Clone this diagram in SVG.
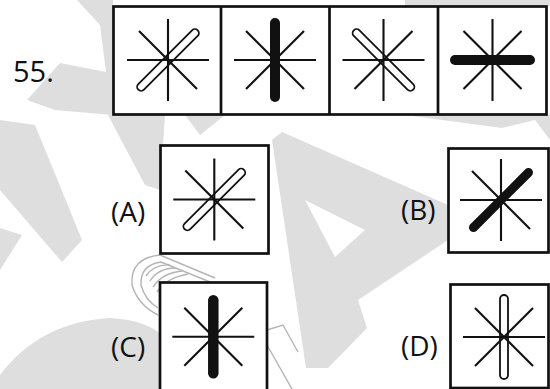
<svg xmlns="http://www.w3.org/2000/svg" xmlns:xlink="http://www.w3.org/1999/xlink" width="550" height="389" viewBox="0 0 550 389">
<style>
.wm{fill:#dedede;stroke:none}
.pen{fill:none;stroke:#b4b4b4;stroke-width:1.4}
.box{fill:#fff;stroke:#111;stroke-width:2.7}
.div{stroke:#111;stroke-width:2.7}
.ray{stroke:#111;stroke-width:2.1;stroke-linecap:butt}
.oval{fill:#fff;stroke:#111;stroke-width:1.8}
.bar{stroke:#111;stroke-width:10;stroke-linecap:round}
.lbl{font-family:"Open Sans","Liberation Sans",sans-serif;font-size:28px;fill:#111}
</style>
<defs>
<line id="h" class="ray" x1="-41" y1="0" x2="41" y2="0"/>
<line id="v" class="ray" x1="0" y1="-41" x2="0" y2="41"/>
<line id="dn" class="ray" x1="-29" y1="29" x2="29" y2="-29"/>
<line id="ds" class="ray" x1="-29" y1="-29" x2="29" y2="29"/>
<rect id="oval" class="oval" x="-42" y="-4" width="84" height="8" rx="4"/>
</defs>
<rect width="550" height="389" fill="#fff"/>
<g id="watermark">
<polygon class="wm" points="77,0 113,0 113,115 55,110 27,100 60,63 106,72 100,25"/>
<polygon class="wm" points="108,115 165,115 160,190 145,185"/>
<polygon class="wm" points="0,120 35,125 82,240 62,262 0,190"/>
<polygon class="wm" points="0,228 22,235 0,270"/>
<path class="wm" d="M0,375 Q40,322 110,318 Q145,320 162,335 L162,389 L0,389 Z"/>
<path class="wm" fill-rule="evenodd" d="M282,132 L448,205 L448,240 L358,300 L367,328 L328,368 L306,368 L272,140 Z M305,200 L365,230 L335,257 Z"/>
<polygon class="wm" points="405,0 550,0 550,6 405,6"/>
<polygon class="wm" points="405,115 550,115 550,140 535,120 502,128"/>
<polygon class="wm" points="185,115 225,115 200,135"/>
</g>
<g id="pencil">
<path class="pen" d="M215,278 L160,255 Q130,258 132,285 Q138,305 158,315"/>
<path class="pen" d="M215,284 L161,262 Q140,265 141,285 Q145,300 158,308"/>
<path class="pen" d="M146,276 Q154,264 170,265 M150,281 Q158,268 176,268 M153,287 Q162,273 182,271 M157,292 Q166,278 188,274"/>
<path class="pen" d="M267,330 L283,325 L298,352 M267,345 L292,389"/>
</g>
<g id="question">
<text class="lbl" x="13" y="81.5" style="font-size:29px">55.</text>
<g id="sequence">
<rect class="box" x="113.5" y="6.5" width="433" height="108"/>
<line class="div" x1="221" y1="6.5" x2="221" y2="114.5"/>
<line class="div" x1="329.5" y1="6.5" x2="329.5" y2="114.5"/>
<line class="div" x1="438" y1="6.5" x2="438" y2="114.5"/>
</g>
<g id="fig1" transform="translate(168,60)">
<use xlink:href="#oval" href="#oval" transform="rotate(-45)"/>
<use xlink:href="#h" href="#h"/><use xlink:href="#v" href="#v"/><use xlink:href="#ds" href="#ds"/>
</g>
<g id="fig2" transform="translate(275,60)">
<use xlink:href="#h" href="#h"/><use xlink:href="#dn" href="#dn"/><use xlink:href="#ds" href="#ds"/>
<line class="bar" x1="0" y1="-37" x2="0" y2="37"/>
</g>
<g id="fig3" transform="translate(383.5,60)">
<use xlink:href="#oval" href="#oval" transform="rotate(45)"/>
<use xlink:href="#h" href="#h"/><use xlink:href="#v" href="#v"/><use xlink:href="#dn" href="#dn"/>
</g>
<g id="fig4" transform="translate(492.5,60)">
<use xlink:href="#v" href="#v"/><use xlink:href="#dn" href="#dn"/><use xlink:href="#ds" href="#ds"/>
<line class="bar" x1="-37.5" y1="0" x2="37.5" y2="0"/>
</g>
</g>
<g id="optionA">
<text class="lbl" x="111" y="221.5">(A)</text>
<rect class="box" x="160.5" y="145.5" width="108" height="108"/>
<g transform="translate(214.3,199.5)">
<use xlink:href="#oval" href="#oval" transform="rotate(-45)"/>
<use xlink:href="#h" href="#h"/><use xlink:href="#v" href="#v"/><use xlink:href="#ds" href="#ds"/>
</g>
</g>
<g id="optionB">
<text class="lbl" x="401" y="220">(B)</text>
<rect class="box" x="448.5" y="148.5" width="100" height="104"/>
<g transform="translate(501,200)">
<use xlink:href="#h" href="#h"/><use xlink:href="#v" href="#v"/><use xlink:href="#ds" href="#ds"/>
<line class="bar" style="stroke-width:9" x1="-27.5" y1="27.5" x2="27.5" y2="-27.5"/>
</g>
</g>
<g id="optionC">
<text class="lbl" x="111" y="357">(C)</text>
<rect class="box" x="160" y="282.5" width="107" height="110"/>
<g transform="translate(213.3,336.7)">
<use xlink:href="#h" href="#h"/><use xlink:href="#dn" href="#dn"/><use xlink:href="#ds" href="#ds"/>
<line class="bar" style="stroke-width:10.5" x1="0" y1="-36.5" x2="0" y2="36.5"/>
</g>
</g>
<g id="optionD">
<text class="lbl" x="401" y="355.5">(D)</text>
<rect class="box" x="450.5" y="284.5" width="98" height="103.5"/>
<g transform="translate(504,337)">
<use xlink:href="#oval" href="#oval" transform="rotate(90)"/>
<use xlink:href="#h" href="#h"/><use xlink:href="#dn" href="#dn"/><use xlink:href="#ds" href="#ds"/>
</g>
</g>
</svg>
